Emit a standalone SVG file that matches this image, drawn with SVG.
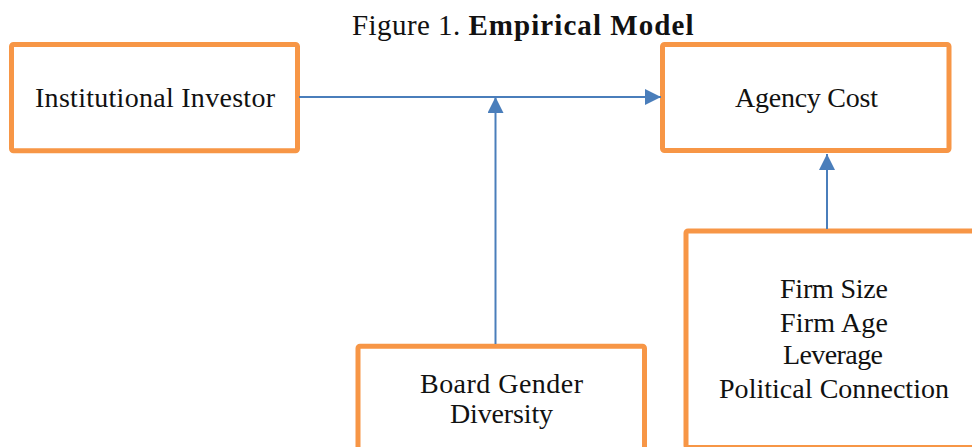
<svg xmlns="http://www.w3.org/2000/svg" width="972" height="447" viewBox="0 0 972 447">
<style>
.box{fill:#FFFFFF;stroke:#F79646;stroke-width:5}
.lbl{font-family:"Liberation Serif","Times New Roman",serif;font-size:28px;fill:#111111;text-anchor:middle}
.ttl{font-family:"Liberation Serif","Times New Roman",serif;font-size:29px;fill:#111111}
.conn{stroke:#4A7EBB;stroke-width:2;fill:none}
</style>
<defs>
<marker id="arr" viewBox="0 0 16 16" refX="16" refY="8" markerWidth="16" markerHeight="16" markerUnits="userSpaceOnUse" orient="auto">
<path d="M0,0 L16,8 L0,16 z" fill="#4A7EBB"/>
</marker>
</defs>
<rect width="972" height="447" fill="#FFFFFF"/>
<text class="ttl" x="352" y="35"><tspan textLength="116">Figure 1. </tspan><tspan font-weight="bold" textLength="225">Empirical Model</tspan></text>
<g id="institutional-investor">
<rect class="box" x="11.5" y="44.5" width="286" height="106.3" rx="2"/>
<text class="lbl" x="155" y="107" textLength="240">Institutional Investor</text>
</g>
<g id="agency-cost">
<rect class="box" x="662.5" y="44.5" width="286.5" height="106" rx="2"/>
<text class="lbl" x="806.5" y="107" textLength="143">Agency Cost</text>
</g>
<g id="board-gender-diversity">
<rect class="box" x="358" y="346.3" width="286.5" height="130" rx="2"/>
<text class="lbl" x="501.5" y="393" textLength="163">Board Gender</text>
<text class="lbl" x="501.5" y="423" textLength="103">Diversity</text>
</g>
<g id="controls">
<rect class="box" x="686" y="231" width="310" height="216.5" rx="2"/>
<text class="lbl" x="834" y="298" textLength="108">Firm Size</text>
<text class="lbl" x="834" y="332" textLength="108">Firm Age</text>
<text class="lbl" x="833" y="364" textLength="100">Leverage</text>
<text class="lbl" x="834" y="398" textLength="230">Political Connection</text>
</g>
<g id="connectors">
<line class="conn" x1="299" y1="97" x2="661" y2="97" marker-end="url(#arr)"/>
<line class="conn" x1="495.5" y1="344" x2="495.5" y2="97" marker-end="url(#arr)"/>
<line class="conn" x1="827" y1="229" x2="827" y2="154" marker-end="url(#arr)"/>
</g>
</svg>
